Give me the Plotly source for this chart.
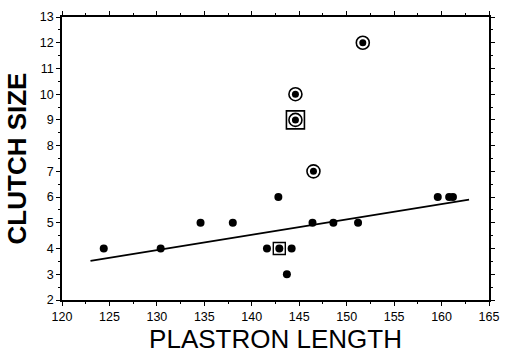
import plotly.graph_objects as go

# Plain points
plain_x = [124.4, 130.4, 134.6, 138.0, 142.8, 141.6, 142.9, 144.2, 143.7, 146.4, 148.6, 151.2, 159.6, 160.8, 161.2]
plain_y = [4, 4, 5, 5, 6, 4, 4, 4, 3, 5, 5, 5, 6, 6, 6]

# Circled points
circ_x = [144.6, 144.6, 146.5, 151.7]
circ_y = [10, 9, 7, 12]

# Boxed points (small and large box)
box_small_x = [142.9]
box_small_y = [4]
box_large_x = [144.6]
box_large_y = [9]

# Regression line endpoints
line_x = [123.0, 162.9]
line_y = [3.52, 5.90]

x_ticks = [120, 125, 130, 135, 140, 145, 150, 155, 160, 165]
y_ticks = [2, 3, 4, 5, 6, 7, 8, 9, 10, 11, 12, 13]

fig = go.Figure()
fig.add_trace(go.Scatter(x=line_x, y=line_y, mode="lines",
                         line=dict(color="black", width=1.8), hoverinfo="skip"))
fig.add_trace(go.Scatter(x=plain_x, y=plain_y, mode="markers",
                         marker=dict(symbol="circle", size=8, color="black")))
fig.add_trace(go.Scatter(x=circ_x, y=circ_y, mode="markers",
                         marker=dict(symbol="circle-open", size=13, color="black",
                                     line=dict(width=1.6, color="black"))))
fig.add_trace(go.Scatter(x=circ_x, y=circ_y, mode="markers",
                         marker=dict(symbol="circle", size=7, color="black")))
fig.add_trace(go.Scatter(x=box_small_x, y=box_small_y, mode="markers",
                         marker=dict(symbol="square-open", size=12, color="black",
                                     line=dict(width=1.4, color="black"))))
fig.add_trace(go.Scatter(x=box_large_x, y=box_large_y, mode="markers",
                         marker=dict(symbol="square-open", size=18, color="black",
                                     line=dict(width=1.6, color="black"))))

axis_common = dict(
    showline=True, linecolor="black", linewidth=1.5, mirror="allticks",
    ticks="outside", ticklen=4, tickwidth=1, tickcolor="black",
    showgrid=False, zeroline=False,
    tickfont=dict(family="Liberation Sans, Arial, sans-serif", size=12.5, color="black"),
)

fig.update_layout(
    width=509, height=357,
    margin=dict(l=62, r=10, t=11, b=57),
    plot_bgcolor="white", paper_bgcolor="white",
    showlegend=False,
    xaxis=dict(range=[120, 165], tickvals=x_ticks,
               minor=dict(dtick=2.5, ticks="outside", ticklen=2, tickcolor="black"),
               title=dict(text="PLASTRON LENGTH", standoff=4,
                          font=dict(family="Liberation Sans, Arial, sans-serif", size=26, color="black")),
               **axis_common),
    yaxis=dict(range=[2, 13], tickvals=y_ticks,
               minor=dict(dtick=0.5, ticks="outside", ticklen=2, tickcolor="black"),
               title=dict(text="<b>CLUTCH SIZE</b>", standoff=6,
                          font=dict(family="Liberation Sans, Arial, sans-serif", size=26, color="black")),
               **axis_common),
)

fig.write_html("out.html")
